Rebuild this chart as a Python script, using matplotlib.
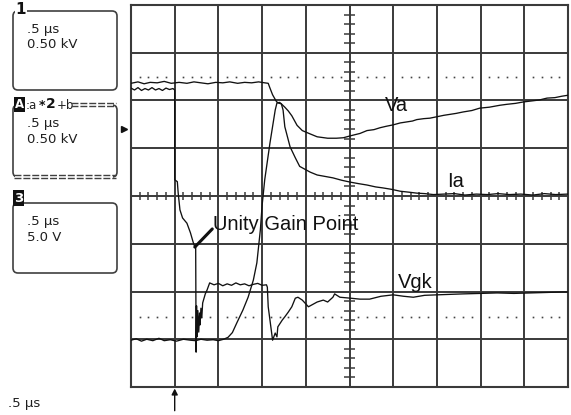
import numpy as np
import matplotlib
matplotlib.use("Agg")
import matplotlib.pyplot as plt
from matplotlib.patches import FancyBboxPatch, Rectangle

# ---- trace data: time in microseconds, amplitude in screen divisions ----
va_t = [0.00, 0.08, 0.15, 0.22, 0.30, 0.38, 0.46, 0.55, 0.64, 0.72,
        0.80, 0.88, 0.97, 1.05, 1.13, 1.22, 1.30, 1.38, 1.46, 1.53,
        1.57, 1.59, 1.62, 1.66, 1.68, 1.72, 1.76, 1.80, 1.84, 1.90,
        1.96, 2.05, 2.13, 2.25, 2.35, 2.43, 2.51, 2.62, 2.70, 2.78,
        2.85, 2.92, 3.00, 3.08, 3.15, 3.22, 3.27, 3.35, 3.42, 3.50,
        3.58, 3.65, 3.72, 3.80, 3.90, 3.99, 4.10, 4.22, 4.30, 4.40,
        4.49, 4.58, 4.67, 4.76, 4.85, 4.93, 5.00]
va = [2.36, 2.39, 2.35, 2.38, 2.37, 2.40, 2.36, 2.38, 2.36, 2.39,
      2.37, 2.35, 2.38, 2.37, 2.39, 2.36, 2.38, 2.37, 2.39, 2.37,
      2.36, 2.26, 2.12, 1.99, 1.95, 1.93, 1.86, 1.78, 1.68, 1.48,
      1.37, 1.30, 1.24, 1.21, 1.21, 1.22, 1.26, 1.31, 1.37, 1.39,
      1.43, 1.46, 1.49, 1.53, 1.55, 1.57, 1.60, 1.62, 1.63, 1.66,
      1.69, 1.71, 1.73, 1.76, 1.79, 1.84, 1.86, 1.90, 1.92, 1.94,
      1.97, 1.99, 2.01, 2.05, 2.06, 2.09, 2.11]

ia_t = [0.00, 0.06, 0.12, 0.18, 0.25, 0.32, 0.38, 0.45, 0.52, 0.60,
        0.68, 0.74, 0.80, 0.87, 0.94, 1.00, 1.06, 1.11, 1.16, 1.21,
        1.28, 1.34, 1.40, 1.44, 1.48, 1.50, 1.53, 1.59, 1.65, 1.67,
        1.70, 1.72, 1.74, 1.76, 1.82, 1.88, 1.93, 2.05, 2.13, 2.22,
        2.31, 2.41, 2.51, 2.60, 2.70, 2.80, 2.88, 2.98, 3.08, 3.18,
        3.27, 3.36, 3.46, 3.58, 3.70, 3.82, 3.95, 4.08, 4.20, 4.33,
        4.46, 4.60, 4.73, 4.86, 5.00]
ia = [-3.02, -2.99, -3.04, -3.00, -3.03, -2.98, -3.03, -3.01, -3.04, -3.00,
      -3.02, -3.03, -3.00, -3.02, -3.01, -3.03, -3.00, -2.96, -2.86, -2.66,
      -2.39, -2.12, -1.76, -1.40, -0.71, -0.20, 0.34, 1.11, 1.80, 1.95,
      1.96, 1.93, 1.80, 1.45, 1.03, 0.80, 0.62, 0.50, 0.44, 0.41,
      0.38, 0.33, 0.29, 0.26, 0.23, 0.19, 0.17, 0.14, 0.10, 0.08,
      0.06, 0.05, 0.03, 0.04, 0.05, 0.02, 0.04, 0.03, 0.05, 0.03,
      0.04, 0.02, 0.05, 0.03, 0.04]

vgk_t = [0.00, 0.04, 0.08, 0.12, 0.16, 0.20, 0.24, 0.28, 0.32, 0.36,
         0.40, 0.44, 0.48, 0.50, 0.50, 0.53, 0.54, 0.56, 0.59, 0.64,
         0.68, 0.71, 0.73, 0.74, 0.745, 0.75, 0.755, 0.765, 0.775, 0.785,
         0.79, 0.80, 0.81, 0.82, 0.85, 0.87, 0.90, 0.95, 1.00, 1.05,
         1.10, 1.15, 1.20, 1.25, 1.30, 1.35, 1.40, 1.45, 1.50, 1.55,
         1.56, 1.57, 1.59, 1.62, 1.65, 1.67, 1.68, 1.73, 1.76, 1.80,
         1.84, 1.88, 1.91, 1.96, 1.99, 2.03, 2.07, 2.13, 2.20, 2.25,
         2.31, 2.33, 2.39, 2.51, 2.62, 2.73, 2.86, 3.00, 3.12, 3.23,
         3.36, 3.50, 3.65, 3.80, 4.00, 4.19, 4.38, 4.57, 4.76, 4.94,
         5.00]
vgk = [2.26, 2.22, 2.27, 2.21, 2.25, 2.22, 2.27, 2.22, 2.25, 2.21,
       2.26, 2.23, 2.25, 2.22, 0.34, 0.30, 0.06, -0.29, -0.46, -0.57,
       -0.77, -0.96, -1.07, -1.07, -3.27, -2.30, -2.95, -2.40, -2.85, -2.45,
       -2.70, -2.35, -2.55, -2.24, -2.05, -1.97, -1.82, -1.86, -1.83, -1.88,
       -1.84, -1.87, -1.82, -1.86, -1.84, -1.88, -1.85, -1.83, -1.87, -1.86,
       -1.91, -2.32, -2.60, -3.02, -2.87, -2.95, -2.74, -2.60, -2.53, -2.43,
       -2.32, -2.14, -2.12, -2.18, -2.24, -2.32, -2.28, -2.22, -2.18, -2.22,
       -2.12, -2.05, -2.12, -2.14, -2.16, -2.16, -2.10, -2.07, -2.10, -2.12,
       -2.08, -2.07, -2.06, -2.05, -2.04, -2.03, -2.04, -2.03, -2.02, -2.01,
       -2.01]
unity_idx = 22          # sample where Vgk reaches the unity gain point

marker_levels = [2.49, -2.53]   # dotted cursor levels (divisions)

trace_labels = ["Va", "Ia", "Vgk", "Unity Gain Point"]
label_pos = [(2.91, 1.78), (3.62, 0.19), (3.05, -1.93), (0.94, -0.71)]

channel_boxes = [("1", ".5 µs", "0.50 kV"),
                 ("A", ".5 µs", "0.50 kV"),
                 ("3", ".5 µs", "5.0 V")]
timebase = ".5 µs"

# ---- figure / screen layout ----
W, H = 571, 415
fig = plt.figure(figsize=(W / 100, H / 100), dpi=100)
fig.patch.set_facecolor("white")

ov = fig.add_axes([0, 0, 1, 1])
ov.set_xlim(0, W)
ov.set_ylim(H, 0)
ov.axis("off")

ax = fig.add_axes([131 / W, (H - 387) / H, 437 / W, 382 / H])
ax.set_xlim(0, 5)
ax.set_ylim(-4, 4)
ax.patch.set_alpha(0)
ax.set_xticks([])
ax.set_yticks([])
grid_c = "#3a3a3a"
for s in ax.spines.values():
    s.set_color(grid_c)
    s.set_linewidth(1.5)

# graticule
for i in range(1, 10):
    ax.axvline(i * 0.5, color=grid_c, lw=1.4, zorder=1)
for j in range(-3, 4):
    ax.axhline(j, color=grid_c, lw=1.4, zorder=1)

xt = np.array([k * 0.1 for k in range(1, 50) if k % 5])
ax.vlines(xt, -0.075, 0.075, color=grid_c, lw=1.1, zorder=1)
yt = np.array([k * 0.2 for k in range(-19, 20) if k % 5])
ax.hlines(yt, 2.5 - 0.06, 2.5 + 0.06, color=grid_c, lw=1.1, zorder=1)

for lvl in marker_levels:
    ax.plot(xt, np.full_like(xt, lvl), ls="none", marker="s", ms=1.2,
            mfc="#444444", mec="none", zorder=1)

# traces
tc = "#111111"
ax.plot(va_t, va, color=tc, lw=0.95, zorder=3)
ax.plot(ia_t, ia, color=tc, lw=0.95, zorder=3)
ax.plot(vgk_t, vgk, color=tc, lw=0.95, zorder=3)

lab_font = dict(family="Liberation Sans", fontsize=14.5, color="#111111",
                va="baseline", ha="left", zorder=4)
for name, (x, y) in zip(trace_labels, label_pos):
    ax.text(x, y, name, **lab_font)
ax.annotate("", xy=(vgk_t[unity_idx], vgk[unity_idx]),
            xytext=(label_pos[3][0] - 0.01, label_pos[3][1] + 0.02),
            arrowprops=dict(arrowstyle="-", lw=2.2, color="#111111",
                            shrinkA=0, shrinkB=0), zorder=4)

# trigger arrow under the screen
ax.annotate("", xy=(0.5, -0.004), xytext=(0.5, -0.062),
            xycoords=("data", "axes fraction"),
            textcoords=("data", "axes fraction"),
            arrowprops=dict(arrowstyle="-|>,head_length=0.35,head_width=0.18",
                            lw=1.0, color="#111111", shrinkA=0, shrinkB=0))

# ---- channel boxes on the left ----
bc = "#404040"
sfont = dict(family="DejaVu Sans", fontsize=9.5, color="#1e1e1e",
             ha="left", va="center")
box_tops = [11, 105, 203]
box_hts = [79, 72, 70]
for (hdr, l1, l2), top, ht in zip(channel_boxes, box_tops, box_hts):
    ov.add_patch(FancyBboxPatch((13, top), 104, ht,
                                boxstyle="round,pad=0,rounding_size=5",
                                fc="none", ec=bc, lw=1.2))
    ov.text(27, top + 18.5, l1, **sfont)
    ov.text(27, top + 34.0, l2, **sfont)

# box 1 header
ov.text(15.5, 10, "1", family="DejaVu Sans", fontsize=11, fontweight="bold",
        color="#111111", ha="left", va="center",
        bbox=dict(boxstyle="square,pad=0.05", fc="white", ec="none"))

# box 2 header and ruled edges
ov.add_patch(Rectangle((15, 101), 98, 8, fc="white", ec="none", zorder=2))
ov.add_patch(Rectangle((15, 173), 98, 8, fc="white", ec="none", zorder=2))
ov.text(19.5, 104.5, "A", family="DejaVu Sans", fontsize=8.5, fontweight="bold",
        color="white", ha="center", va="center", zorder=3,
        bbox=dict(boxstyle="square,pad=0.12", fc="#111111", ec="none"))
ov.text(25.5, 105, ":a", family="DejaVu Sans", fontsize=8.5, color="#222222",
        ha="left", va="center", zorder=3)
ov.text(38.5, 105, "*", family="DejaVu Sans", fontsize=9, fontweight="bold",
        color="#111111", ha="left", va="center", zorder=3)
ov.text(45.5, 104, "2", family="DejaVu Sans", fontsize=10, fontweight="bold",
        color="#111111", ha="left", va="center", zorder=3)
ov.text(56.5, 105, "+b", family="DejaVu Sans", fontsize=8.5, color="#222222",
        ha="left", va="center", zorder=3)
dash = (0, (5.0, 1.4))
for yy in (103.5, 106.5):
    ov.plot([71, 116], [yy, yy], color=bc, lw=1.0, ls=dash, zorder=3)
for yy in (175.5, 178.5):
    ov.plot([14, 116], [yy, yy], color=bc, lw=1.0, ls=dash, zorder=3)

# box 3 header
ov.text(18.5, 198, "3", family="DejaVu Sans", fontsize=9.5, fontweight="bold",
        color="white", ha="center", va="center", zorder=3,
        bbox=dict(boxstyle="square,pad=0.1", fc="#111111", ec="none"))

# reference marker at the left screen edge
ov.plot([124], [129], marker=">", ms=4.5, color="#111111", ls="none")

# time base readout
ov.text(8, 403, timebase, **sfont)

fig.savefig("out.png", dpi=100, facecolor="white")
